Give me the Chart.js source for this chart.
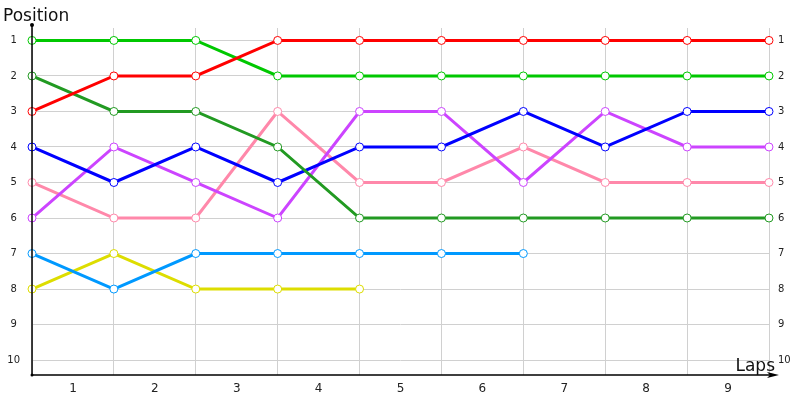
<!DOCTYPE html>
<html>
<head>
<meta charset="utf-8">
<script src="https://cdn.jsdelivr.net/npm/chart.js@4"></script>
<style>
  html, body { margin: 0; padding: 0; background: #fff; }
  #wrap { width: 800px; height: 400px; }
</style>
</head>
<body>
<div id="wrap"><canvas id="myChart" width="800" height="400"></canvas></div>
<script>
// laps at the grid lines (0 = start), labels sit between them
const laps = [0, 1, 2, 3, 4, 5, 6, 7, 8, 9];
const lapLabels = ['1', '2', '3', '4', '5', '6', '7', '8', '9'];
const positionTicks = [1, 2, 3, 4, 5, 6, 7, 8, 9, 10];

const red        = [3, 2, 2, 1, 1, 1, 1, 1, 1, 1];
const lightGreen = [1, 1, 1, 2, 2, 2, 2, 2, 2, 2];
const darkGreen  = [2, 3, 3, 4, 6, 6, 6, 6, 6, 6];
const blue       = [4, 5, 4, 5, 4, 4, 3, 4, 3, 3];
const purple     = [6, 4, 5, 6, 3, 3, 5, 3, 4, 4];
const pink       = [5, 6, 6, 3, 5, 5, 4, 5, 5, 5];
const skyBlue    = [7, 8, 7, 7, 7, 7, 7];
const yellow     = [8, 7, 8, 8, 8];

function series(values, color) {
    return {
        data: values.map((p, i) => ({ x: laps[i], y: p })),
        borderColor: color,
        borderWidth: 3,
        pointRadius: 4,
        pointBorderWidth: 1,
        pointBackgroundColor: '#ffffff',
        pointBorderColor: color,
        tension: 0,
        fill: false,
        clip: false
    };
}

// axis lines, arrow and titles
const axisDecor = {
    id: 'axisDecor',
    afterDraw(chart) {
        const c = chart.ctx;
        const a = chart.chartArea;
        c.save();
        c.strokeStyle = '#000';
        c.lineWidth = 1.5;
        c.beginPath();
        c.moveTo(a.left, a.top - 3);
        c.lineTo(a.left, a.bottom);
        c.lineTo(a.right + 4, a.bottom);
        c.stroke();
        c.fillStyle = '#000';
        c.beginPath();
        c.arc(a.left, a.top - 3, 2, 0, Math.PI * 2);
        c.fill();
        c.beginPath();
        c.arc(a.left, a.bottom, 1.5, 0, Math.PI * 2);
        c.fill();
        c.beginPath();
        c.moveTo(a.right + 10, a.bottom);
        c.lineTo(a.right - 2, a.bottom - 3);
        c.lineTo(a.right + 1, a.bottom);
        c.lineTo(a.right - 2, a.bottom + 3);
        c.closePath();
        c.fill();
        c.font = '17px "DejaVu Sans"';
        c.fillStyle = '#111';
        c.textBaseline = 'alphabetic';
        c.textAlign = 'left';
        c.fillText('Position', 3, 21);
        c.textAlign = 'right';
        c.fillText('Laps', a.right + 6, a.bottom - 4);
        c.restore();
    }
};

const ctx = document.getElementById('myChart').getContext('2d');
let chart = new Chart(ctx, {
    type: 'line',
    data: {
        datasets: [
            series(red, '#ff0000'),
            series(lightGreen, '#00c800'),
            series(darkGreen, '#229a22'),
            series(blue, '#0000ff'),
            series(purple, '#cc44ff'),
            series(pink, '#ff88aa'),
            series(skyBlue, '#0099ff'),
            series(yellow, '#dddd00')
        ]
    },
    options: {
        responsive: false,
        animation: false,
        layout: { padding: { top: 28, left: 0, right: 0, bottom: 0 } },
        plugins: { legend: { display: false }, tooltip: { enabled: false } },
        scales: {
            x: {
                type: 'linear',
                min: 0,
                max: 9,
                afterBuildTicks: (s) => {
                    const t = [];
                    for (let v = 0; v <= 9; v += 0.5) t.push({ value: v });
                    s.ticks = t;
                },
                afterFit: (s) => { s.height = 25; },
                border: { display: false },
                grid: {
                    drawTicks: false,
                    color: (c) => Number.isInteger(c.tick.value) ? '#d0d0d0' : 'rgba(0,0,0,0)'
                },
                ticks: {
                    autoSkip: false,
                    maxRotation: 0,
                    padding: 7,
                    color: '#222',
                    font: { family: 'DejaVu Sans', size: 12 },
                    callback: (v) => Number.isInteger(v) ? '' : lapLabels[Math.floor(v)]
                }
            },
            y: {
                type: 'linear',
                reverse: true,
                min: 0.65,
                max: 10.42,
                afterBuildTicks: (s) => { s.ticks = positionTicks.map(v => ({ value: v })); },
                afterFit: (s) => { s.width = 32; },
                border: { display: false },
                grid: { drawTicks: false, color: '#d0d0d0' },
                ticks: {
                    crossAlign: 'center',
                    padding: 12,
                    color: '#222',
                    font: { family: 'DejaVu Sans', size: 10 }
                }
            },
            y2: {
                type: 'linear',
                position: 'right',
                reverse: true,
                min: 0.65,
                max: 10.42,
                afterBuildTicks: (s) => { s.ticks = positionTicks.map(v => ({ value: v })); },
                afterFit: (s) => { s.width = 31; },
                border: { display: false },
                grid: { display: false },
                ticks: {
                    padding: 1,
                    color: '#222',
                    font: { family: 'DejaVu Sans', size: 10 }
                }
            }
        }
    },
    plugins: [axisDecor]
});
</script>
</body>
</html>
